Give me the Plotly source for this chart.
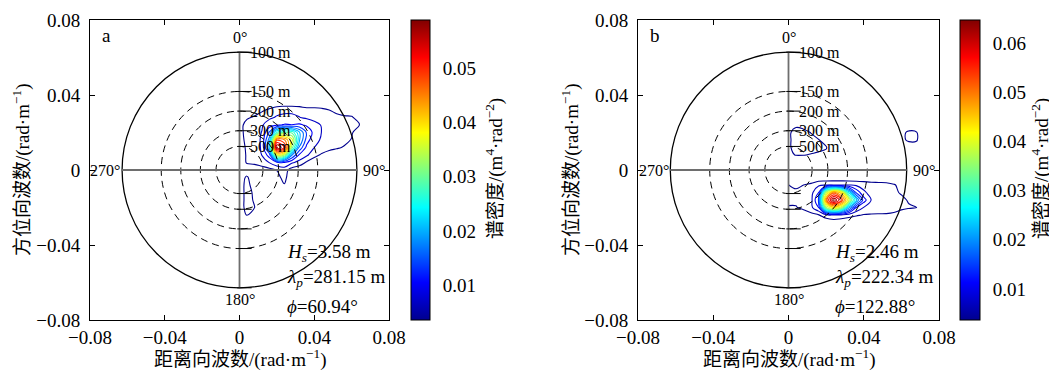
import numpy as np
import plotly.graph_objects as go

W, H = 1057, 372          # window size
OFF = 8                   # page body margin that offsets the figure
FW, FH = W - OFF, H - OFF # figure size
SERIF = "Liberation Serif, Times New Roman, Noto Sans CJK SC, serif"

# ---------------- data ----------------
# wavenumber grid (rad/m); spectral density in 1e-3 m^4 rad^-2
kx_a = [0.000, 0.004, 0.008, 0.012, 0.016, 0.020, 0.024, 0.028, 0.032,
        0.036, 0.040, 0.044, 0.048, 0.052, 0.056, 0.060, 0.064, 0.068]
ky_a = [0.036, 0.032, 0.028, 0.024, 0.020, 0.016, 0.012, 0.008, 0.004,
        0.000, -0.004, -0.008, -0.012, -0.016, -0.020, -0.024, -0.028]
spec_a = [
    [0, 1, 2, 3, 4, 4, 4, 4, 4, 3, 3, 3, 3, 2, 2, 2, 1, 0],
    [0, 3, 4.5, 6, 7, 8.5, 9, 9, 8.5, 8, 8, 7.5, 6.5, 5.5, 5, 5, 3, 0],
    [2, 6, 7, 8, 9, 9.8, 10, 10, 9.6, 9, 8.5, 8, 7.5, 7.5, 7, 6.8, 5.5, 0],
    [5, 8, 8.5, 9.2, 11, 12, 12.8, 12.6, 13, 12, 10.5, 9.3, 8.5, 8, 8, 7.5, 6.8, 0],
    [5, 8, 8.5, 9.6, 16, 28, 31, 30, 22, 15, 11.5, 9.4, 8.5, 8, 8, 7, 4, 0],
    [5, 7.5, 8, 10, 20, 48, 46, 38, 22, 14, 10, 9.3, 8.5, 8, 7.5, 6.3, 3, 0],
    [5, 7, 7.5, 10, 22, 58, 52, 32, 18, 11.5, 9.5, 8.5, 7.5, 7, 6.2, 4, 1, 0],
    [5, 6.8, 7, 9.6, 14, 36, 34, 19, 12, 10, 7.5, 6, 5, 4, 3, 2, 1, 0],
    [4.5, 6.8, 7, 8, 9.6, 12, 12, 10, 8.5, 6, 4.5, 4, 3, 2, 2, 1, 0, 0],
    [3, 4.5, 5, 5, 5.5, 6.6, 8, 5, 4, 3, 2, 2, 1, 1, 0, 0, 0, 0],
    [5, 7, 4, 3, 3, 5.5, 7.5, 4, 3, 2, 1, 1, 0, 0, 0, 0, 0, 0],
    [5, 7.5, 5, 3, 3, 4, 6.3, 3, 2, 1, 0, 0, 0, 0, 0, 0, 0, 0],
    [5, 7.5, 6, 3, 2, 2, 2, 1, 0, 0, 0, 0, 0, 0, 0, 0, 0, 0],
    [5, 7.5, 6.2, 3, 1, 1, 1, 0, 0, 0, 0, 0, 0, 0, 0, 0, 0, 0],
    [5, 7.5, 6.6, 3, 1, 0, 0, 0, 0, 0, 0, 0, 0, 0, 0, 0, 0, 0],
    [4, 6.8, 4, 2, 0, 0, 0, 0, 0, 0, 0, 0, 0, 0, 0, 0, 0, 0],
    [2, 4, 2, 1, 0, 0, 0, 0, 0, 0, 0, 0, 0, 0, 0, 0, 0, 0],
]

kx_b = [0.000, 0.004, 0.008, 0.012, 0.016, 0.020, 0.024, 0.028, 0.032, 0.036,
        0.040, 0.044, 0.048, 0.052, 0.056, 0.060, 0.064, 0.068, 0.072]
ky_b = [0.028, 0.024, 0.020, 0.016, 0.012, 0.008, 0.004, 0.000, -0.004,
        -0.008, -0.012, -0.016, -0.020, -0.024, -0.028, -0.032]
spec_b = [
    [2, 3, 3, 2, 2, 1, 1, 1, 1, 1, 1, 1, 1, 1, 1, 1, 2, 2, 0],
    [6, 6, 5.5, 4, 3, 2, 1, 1, 1, 1, 1, 1, 1, 1, 2, 3, 4, 3, 0],
    [6, 7.5, 7.3, 6.4, 4, 3, 2, 1, 1, 1, 1, 1, 2, 2, 3, 5.5, 7.2, 6.8, 3],
    [6, 7.5, 7.5, 7.2, 6.7, 5, 3, 2, 1, 1, 1, 1, 2, 2, 3, 5.5, 7.2, 7.0, 3],
    [6, 7.5, 7.5, 7.5, 7.2, 6.8, 3, 2, 1, 1, 1, 1, 1, 2, 2, 4, 4, 4, 2],
    [6, 6.6, 6.6, 6.3, 6.0, 5.5, 3, 2, 1, 1, 1, 1, 1, 1, 1, 1, 1, 1, 0],
    [4, 4, 3, 3, 3, 2, 2, 2, 1, 1, 1, 1, 1, 1, 1, 1, 1, 0, 0],
    [3, 3, 3, 3, 3, 3, 3, 3, 3, 3, 3, 3, 3, 2, 2, 1, 1, 0, 0],
    [4, 4, 4, 4, 4, 4, 4, 4, 4, 4, 4, 4, 4, 4, 4, 3, 2, 1, 0],
    [6.6, 6.0, 6.5, 7.2, 9.0, 9.4, 9.5, 9.5, 9.4, 9.0, 8.5, 8.0, 7.8, 7.6, 6.8, 5.5, 4, 2, 0],
    [6.8, 7.0, 7.2, 8.5, 12.5, 38, 50, 44, 27, 15, 10, 8.5, 8, 7.8, 7.4, 6.0, 5, 3, 1],
    [6.8, 7.2, 7.5, 8.5, 16, 50, 64, 55, 40, 25, 14, 9.4, 8.3, 8, 7.8, 7.6, 6.0, 3, 1],
    [6.4, 6.3, 7.3, 8.8, 12.5, 36, 44, 38, 23, 12.5, 9.4, 8.5, 8, 7.8, 7.5, 7.2, 7.0, 6.6, 3],
    [4, 4, 4.5, 5.5, 6.3, 8.5, 9.5, 9.0, 8.0, 7.0, 6.3, 6.2, 6.2, 6.2, 6.0, 5.0, 3, 2, 0],
    [2, 2, 3, 3, 3.5, 4, 4.5, 4, 3.5, 3, 3, 3, 3, 3, 2, 2, 1, 0, 0],
    [0, 0, 0, 0, 0, 0, 0, 0, 0, 0, 0, 0, 0, 0, 0, 0, 0, 0, 0],
]
SPEC_UNIT = 1e-3

levels_a = dict(start=0.0065, end=0.0575, size=0.003)
levels_b = dict(start=0.0065, end=0.0635, size=0.003)
crange_a = [0.0037, 0.0588]
crange_b = [0.0037, 0.0647]
cticks_a = [0.01, 0.02, 0.03, 0.04, 0.05]
cticks_b = [0.01, 0.02, 0.03, 0.04, 0.05, 0.06]

axis_ticks = [-0.08, -0.04, 0, 0.04, 0.08]
axis_ticktext = ["\u22120.08", "\u22120.04", "0", "0.04", "0.08"]

ring_wavelengths = [100, 150, 200, 300, 500]   # m
angle_labels = ["0°", "90°", "180°", "270°"]

stats_a = ["<i>H</i><sub><i>s</i></sub>=3.58 m",
           "<i>λ</i><sub><i>p</i></sub>=281.15 m",
           "<i>ϕ</i>=60.94°"]
stats_b = ["<i>H</i><sub><i>s</i></sub>=2.46 m",
           "<i>λ</i><sub><i>p</i></sub>=222.34 m",
           "<i>ϕ</i>=122.88°"]

xlabel = "距离向波数/(rad·m<sup>\u22121</sup>)"
ylabel = "方位向波数/(rad·m<sup>\u22121</sup>)"
clabel = "谱密度/(m<sup>4</sup>·rad<sup>\u22122</sup>)"

JET = [[0.0, "rgb(0,0,143)"], [0.125, "rgb(0,0,255)"], [0.375, "rgb(0,255,255)"],
       [0.625, "rgb(255,255,0)"], [0.875, "rgb(255,0,0)"], [1.0, "rgb(128,0,0)"]]

# ---------------- layout geometry (window pixels -> paper) ----------------
def pxx(p):
    return (p - OFF) / FW

def pxy(p):
    return 1 - (p - OFF) / FH

x_dom_a = [pxx(90), pxx(389)]
x_dom_b = [pxx(638), pxx(939)]
y_dom = [pxy(320), pxy(20)]

fig = go.Figure()

def add_panel(kx, ky, spec, levels, crange, cticks, xa, ya, cb_x, cb_thick):
    z = (np.array(spec, dtype=float) * SPEC_UNIT)[::-1]
    fig.add_trace(go.Contour(
        x=kx, y=ky[::-1], z=z, xaxis=xa, yaxis=ya,
        contours=dict(coloring="lines", **levels),
        line=dict(width=1.1, smoothing=1.1),
        colorscale=JET, zmin=crange[0], zmax=crange[1], zauto=False,
        showscale=False, hoverinfo="skip"))
    fig.add_trace(go.Scatter(
        x=[None, None], y=[None, None], mode="markers", xaxis=xa, yaxis=ya,
        showlegend=False, hoverinfo="skip",
        marker=dict(color=crange, colorscale=JET, cmin=crange[0], cmax=crange[1],
                    showscale=True,
                    colorbar=dict(x=cb_x, xanchor="left", xpad=0, ypad=0,
                                  y=0.5 * (y_dom[0] + y_dom[1]), yanchor="middle",
                                  len=300, lenmode="pixels",
                                  thickness=cb_thick, thicknessmode="pixels",
                                  outlinewidth=1, outlinecolor="black",
                                  ticks="outside", ticklen=9, tickcolor="rgba(0,0,0,0)",
                                  tickvals=cticks, ticktext=[f"{t:.2f}" for t in cticks],
                                  tickfont=dict(family=SERIF, size=19, color="black")))))

add_panel(kx_a, ky_a, spec_a, levels_a, crange_a, cticks_a, "x", "y", pxx(411), 19)
add_panel(kx_b, ky_b, spec_b, levels_b, crange_b, cticks_b, "x2", "y2", pxx(960), 20)

shapes = []
annotations = []

def overlay(xref, yref, stats, letter, stat_x, cb_x1, cticks, crange):
    radii = [2 * np.pi / lam for lam in ring_wavelengths]
    r_out = radii[0]
    for i, r in enumerate(radii):
        shapes.append(dict(type="circle", xref=xref, yref=yref, x0=-r, x1=r, y0=-r, y1=r,
                           line=dict(color="black", width=1.3 if i == 0 else 1.0,
                                     dash="solid" if i == 0 else "7px,5px"),
                           layer="above"))
    # crosshair
    shapes.append(dict(type="line", xref=xref, yref=yref, x0=-r_out, x1=r_out, y0=0, y1=0,
                       line=dict(color="rgb(110,110,110)", width=1.8), layer="above"))
    shapes.append(dict(type="line", xref=xref, yref=yref, x0=0, x1=0, y0=-r_out, y1=r_out,
                       line=dict(color="rgb(110,110,110)", width=1.8), layer="above"))
    # radial ticks on the vertical axis
    for r in radii:
        for s in (1, -1):
            shapes.append(dict(type="line", xref=xref, yref=yref, x0=-0.0012, x1=0.0065,
                               y0=s * r, y1=s * r, line=dict(color="black", width=1),
                               layer="above"))
    # ring labels
    for lam, r in zip(ring_wavelengths, radii):
        annotations.append(dict(xref=xref, yref=yref, x=0.0045, y=r, text=f"{lam} m",
                                showarrow=False, xanchor="left", yanchor="middle",
                                font=dict(family=SERIF, size=16, color="black")))
    # angle labels
    pos = [(0.0, r_out + 0.0076, "center"), (r_out + 0.0024, 0.0, "left"),
           (0.0, -(r_out + 0.006), "center"), (-(r_out - 0.0002), 0.0, "right")]
    for txt, (x, y, xa) in zip(angle_labels, pos):
        annotations.append(dict(xref=xref, yref=yref, x=x, y=y, text=txt, showarrow=False,
                                xanchor=xa, yanchor="middle",
                                font=dict(family=SERIF, size=16, color="black")))
    # statistics
    for txt, y in zip(stats, [-0.0443, -0.0578, -0.0727]):
        annotations.append(dict(xref=xref, yref=yref, x=stat_x, y=y, text=txt,
                                showarrow=False, xanchor="left", yanchor="middle",
                                font=dict(family=SERIF, size=19, color="black")))
    annotations.append(dict(xref=xref, yref=yref, x=-0.0745, y=0.0715, text=letter,
                            showarrow=False, xanchor="left", yanchor="middle",
                            font=dict(family=SERIF, size=19, color="black")))
    # small inside ticks on the colorbar's right edge
    for t in cticks:
        yp = y_dom[0] + (t - crange[0]) / (crange[1] - crange[0]) * (y_dom[1] - y_dom[0])
        shapes.append(dict(type="line", xref="paper", yref="paper", x0=cb_x1 - 3 / FW,
                           x1=cb_x1, y0=yp, y1=yp, line=dict(color="black", width=1)))

overlay("x", "y", stats_a, "a", 0.0243, pxx(430), cticks_a, crange_a)
overlay("x2", "y2", stats_b, "b", 0.0237, pxx(980), cticks_b, crange_b)

# axis titles
for cx in (240, 789):
    annotations.append(dict(xref="paper", yref="paper", x=pxx(cx), y=pxy(358), text=xlabel,
                            showarrow=False, xanchor="center", yanchor="middle",
                            font=dict(family=SERIF, size=19, color="black")))
for cx in (21, 570):
    annotations.append(dict(xref="paper", yref="paper", x=pxx(cx), y=pxy(170), text=ylabel,
                            showarrow=False, xanchor="center", yanchor="middle", textangle=-90,
                            font=dict(family=SERIF, size=19, color="black")))
for cx in (494, 1040):
    annotations.append(dict(xref="paper", yref="paper", x=pxx(cx), y=pxy(169), text=clabel,
                            showarrow=False, xanchor="center", yanchor="middle", textangle=-90,
                            font=dict(family=SERIF, size=19, color="black")))

axis_common = dict(range=[-0.08, 0.08], tickvals=axis_ticks, ticktext=axis_ticktext,
                   ticks="inside", ticklen=5, tickwidth=1, tickcolor="black",
                   showline=True, linecolor="black", linewidth=1, mirror="ticks",
                   showgrid=False, zeroline=False, automargin=False,
                   tickfont=dict(family=SERIF, size=19, color="black"))

fig.update_layout(
    width=FW, height=FH, margin=dict(l=0, r=0, t=0, b=0, autoexpand=False),
    paper_bgcolor="white", plot_bgcolor="white", showlegend=False,
    xaxis=dict(domain=x_dom_a, anchor="y", ticklabelstandoff=0, **axis_common),
    yaxis=dict(domain=y_dom, anchor="x", ticklabelstandoff=5, **axis_common),
    xaxis2=dict(domain=x_dom_b, anchor="y2", ticklabelstandoff=0, **axis_common),
    yaxis2=dict(domain=y_dom, anchor="x2", ticklabelstandoff=5, **axis_common),
    shapes=shapes, annotations=annotations,
)

fig.write_html("out.html")
